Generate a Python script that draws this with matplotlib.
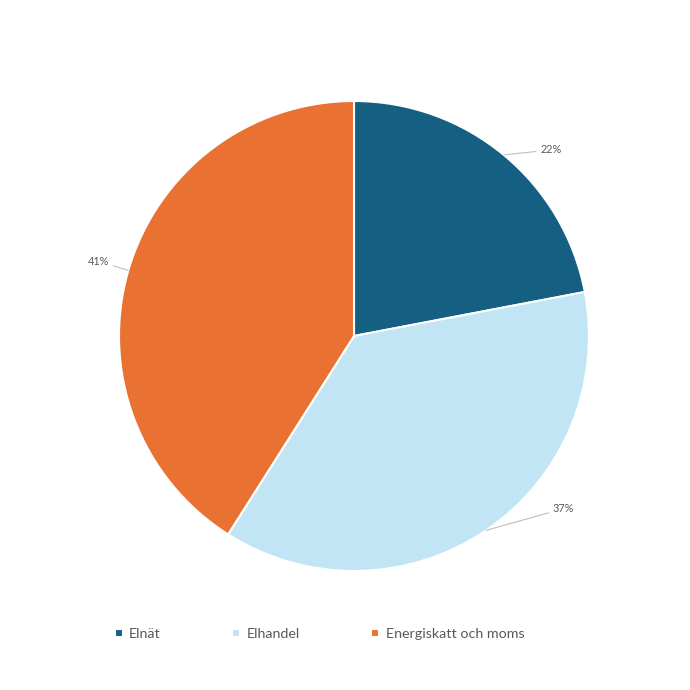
#! /usr/bin/env python3

import numpy as np
import matplotlib
matplotlib.use('Agg')
import matplotlib.pyplot as plt

# data
categories = ['Elnät', 'Elhandel', 'Energiskatt och moms']
shares = [22, 37, 41]
labels = ['22%', '37%', '41%']
colors = ['#156082', '#C1E5F5', '#E97132']

plt.rcParams['font.family'] = ['Lato', 'DejaVu Sans']

fig = plt.figure(figsize=(6.9, 6.9), dpi=100)
cx, cy, r = 354 / 690, 1 - 336 / 690, 235 / 690
lim = 1.4
ax = fig.add_axes([cx - lim * r, cy - lim * r, 2 * lim * r, 2 * lim * r])

wedges, _ = ax.pie(shares, colors=colors, startangle=90, counterclock=False,
                   radius=1.0, wedgeprops=dict(edgecolor='white', linewidth=1.5))
# pie resets the limits, so set them afterwards
ax.set_xlim(-lim, lim)
ax.set_ylim(-lim, lim)
ax.set_aspect('equal')
ax.axis('off')

# label offsets from wedge mid-angle (polar in radius units)
label_pos = [(1.12, 45), (1.12, -41), (1.09, 163)]
for w, lab, (rad, ang) in zip(wedges, labels, label_pos):
    mid = np.deg2rad((w.theta1 + w.theta2) / 2)
    edge = (np.cos(mid), np.sin(mid))
    tx, ty = rad * np.cos(np.deg2rad(ang)), rad * np.sin(np.deg2rad(ang))
    ha = 'left' if tx > 0 else 'right'
    ax.annotate(lab, xy=edge, xytext=(tx, ty), ha=ha, va='center',
                fontsize=7.8, color='#595959',
                arrowprops=dict(arrowstyle='-', color='#bfbfbf', lw=0.8,
                                shrinkA=1, shrinkB=0))

fig.legend(wedges, categories, loc='center left', bbox_to_anchor=(0.158, 1 - 634 / 690),
           ncol=3, frameon=False, fontsize=10.3, labelcolor='#595959',
           handlelength=0.55, handleheight=0.55, handletextpad=0.45,
           columnspacing=5.0, borderaxespad=0)

fig.savefig('out.png', dpi=100)
